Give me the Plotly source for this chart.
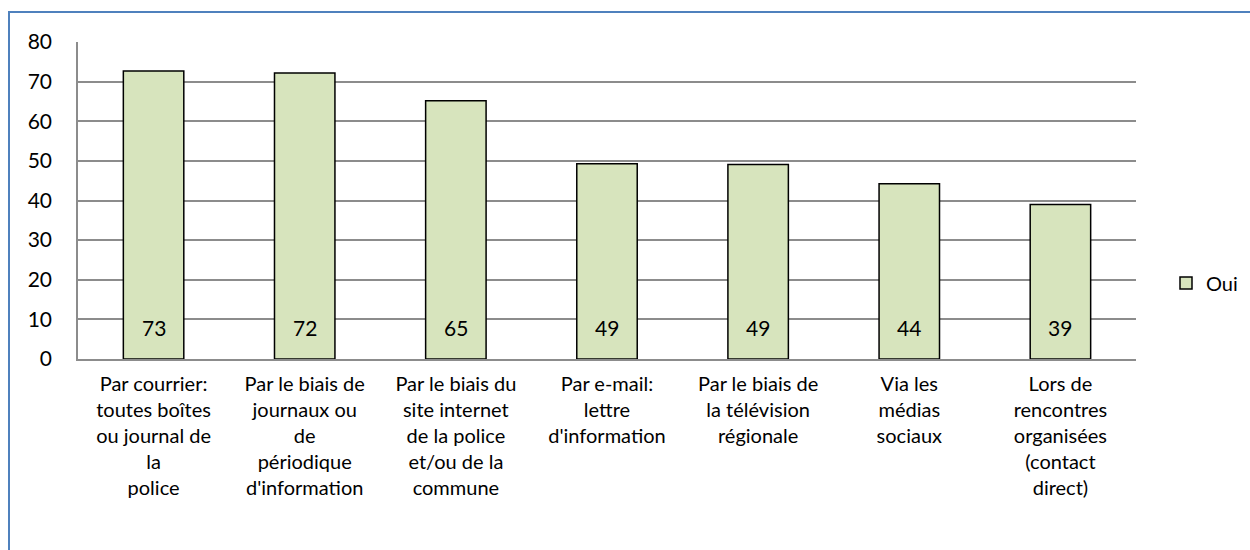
import plotly.graph_objects as go

categories = [
    "Par courrier:<br>toutes boîtes<br>ou journal de<br>la<br>police",
    "Par le biais de<br>journaux ou<br>de<br>périodique<br>d'information",
    "Par le biais du<br>site internet<br>de la police<br>et/ou de la<br>commune",
    "Par e-mail:<br>lettre<br>d'information",
    "Par le biais de<br>la télévision<br>régionale",
    "Via les<br>médias<br>sociaux",
    "Lors de<br>rencontres<br>organisées<br>(contact<br>direct)",
]
values = [72.7, 72.2, 65.2, 49.3, 49.1, 44.2, 39.0]
labels = ["73", "72", "65", "49", "49", "44", "39"]
series_name = "Oui"
y_ticks = [0, 10, 20, 30, 40, 50, 60, 70, 80]

W, H = 1250, 550
L, R, T, B = 78, 114, 42, 191
pw, ph = W - L - R, H - T - B

def px(x):
    return (x - L) / pw

def py(y):
    return (H - B - y) / ph

font = "Lato"

fig = go.Figure()
fig.add_trace(go.Bar(
    x=categories, y=values, name=series_name,
    marker=dict(color="#D7E4BD", line=dict(color="black", width=1.5)),
    showlegend=True,
))

annotations = [
    dict(x=c, y=0, xref="x", yref="y", text=t, showarrow=False,
         yanchor="bottom", yshift=17,
         font=dict(family=font, size=21, color="black"))
    for c, t in zip(categories, labels)
]

fig.update_layout(
    width=W, height=H,
    margin=dict(l=L, r=R, t=T, b=B, autoexpand=False),
    paper_bgcolor="white", plot_bgcolor="white",
    bargap=0.6,
    font=dict(family=font, size=20, color="black"),
    showlegend=True,
    legend=dict(x=px(1166), y=py(283), xanchor="left", yanchor="middle",
                font=dict(family=font, size=20, color="black"),
                bgcolor="rgba(0,0,0,0)", itemwidth=30),
    shapes=[dict(type="rect", xref="paper", yref="paper",
                 x0=px(9), x1=px(1262), y0=py(12), y1=py(600),
                 line=dict(color="#4F81BD", width=2), fillcolor="rgba(0,0,0,0)",
                 layer="below")],
    annotations=annotations,
)
fig.update_yaxes(range=[0, 80], tickvals=y_ticks, showgrid=True,
                 gridcolor="#8C8C8C", gridwidth=1.5,
                 showline=True, linecolor="#8C8C8C", linewidth=1.5,
                 zeroline=False, ticks="", ticklabelstandoff=20,
                 tickfont=dict(family=font, size=21, color="black"), fixedrange=True)
fig.update_xaxes(showline=True, linecolor="#8C8C8C", linewidth=1.5,
                 ticks="", tickangle=0, ticklabelstandoff=6,
                 tickfont=dict(family=font, size=20, color="black"), fixedrange=True)

fig.write_html("out.html", config={"displayModeBar": False},
               post_script="document.body.style.margin='0';")
